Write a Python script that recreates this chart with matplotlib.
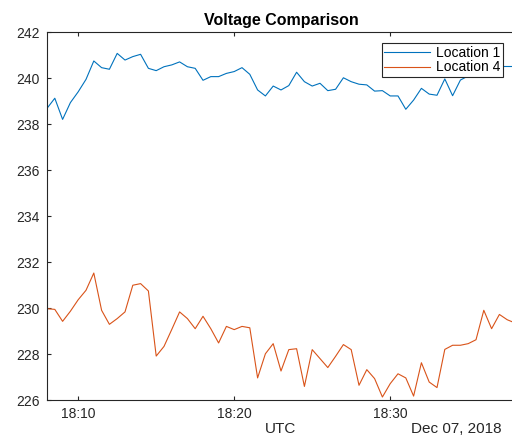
import matplotlib
matplotlib.use('Agg')
import matplotlib.pyplot as plt
import matplotlib.dates as mdates
import pandas as pd

plt.rcParams['font.family'] = ['Liberation Sans', 'DejaVu Sans']

# readings every 30 s, 18:08:00 .. 18:38:00 UTC
times = pd.date_range('2018-12-07 18:08:00', '2018-12-07 18:38:00', freq='30s')

loc1 = [238.68, 239.12, 238.20, 238.93, 239.40, 239.94, 240.74, 240.45, 240.38, 241.07,
        240.78, 240.93, 241.03, 240.42, 240.32, 240.49, 240.57, 240.70, 240.49, 240.42,
        239.90, 240.06, 240.06, 240.20, 240.28, 240.45, 240.16, 239.48, 239.22, 239.65,
        239.48, 239.67, 240.25, 239.84, 239.65, 239.77, 239.45, 239.51, 240.01, 239.84,
        239.73, 239.70, 239.43, 239.45, 239.22, 239.22, 238.64, 239.04, 239.55, 239.30,
        239.25, 239.96, 239.23, 239.91, 240.09, 240.25, 240.35, 240.45, 240.50, 240.50,
        240.50]

loc4 = [229.97, 229.94, 229.42, 229.86, 230.36, 230.77, 231.52, 229.90, 229.29, 229.54,
        229.83, 230.99, 231.06, 230.74, 227.91, 228.33, 229.07, 229.83, 229.54, 229.10,
        229.64, 229.10, 228.48, 229.20, 229.06, 229.20, 229.14, 226.96, 228.01, 228.45,
        227.26, 228.19, 228.23, 226.59, 228.19, 227.80, 227.41, 227.90, 228.41, 228.19,
        226.64, 227.32, 226.93, 226.13, 226.71, 227.14, 226.96, 226.17, 227.62, 226.78,
        226.54, 228.20, 228.38, 228.38, 228.45, 228.62, 229.90, 229.10, 229.72, 229.49,
        229.35]

labels = ['Location 1', 'Location 4']
colors = ['#0072BD', '#D95319']
dark = '#262626'

fig = plt.figure(figsize=(5.12, 4.37), dpi=100)
ax = fig.add_axes([47 / 512, 37 / 437, 468 / 512, 368 / 437])

ax.plot(times, loc1, color=colors[0], lw=0.8, label=labels[0])
ax.plot(times, loc4, color=colors[1], lw=0.8, label=labels[1])

ax.set_xlim(times[0], times[-1])
ax.set_ylim(226, 242)
ax.set_yticks(range(226, 243, 2))
ax.set_xticks(pd.to_datetime(['2018-12-07 18:10', '2018-12-07 18:20', '2018-12-07 18:30']))
ax.xaxis.set_major_formatter(mdates.DateFormatter('%H:%M'))

for s in ax.spines.values():
    s.set_color(dark)
    s.set_linewidth(0.8)
ax.tick_params(direction='in', length=3, width=0.8, colors=dark, labelsize=10,
               top=True, right=False)
ax.tick_params(axis='x', pad=5)
ax.tick_params(axis='y', pad=5)

ax.set_title('Voltage Comparison', fontsize=11.5, fontweight='bold', pad=5)
ax.set_xlabel('UTC', fontsize=11, color=dark, labelpad=1)
fig.text(502 / 512, 1 - 429 / 437, 'Dec 07, 2018', ha='right', va='center',
         fontsize=11, color=dark)

leg = ax.legend(loc='upper right', bbox_to_anchor=(503 / 512, 1 - 43 / 437),
                bbox_transform=fig.transFigure, fontsize=10, frameon=True,
                fancybox=False, framealpha=1, edgecolor=dark, borderpad=0.2,
                handlelength=3.3, handletextpad=0.4, labelspacing=0.05,
                borderaxespad=0)
leg.get_frame().set_linewidth(0.8)

fig.savefig('out.png', dpi=100)
